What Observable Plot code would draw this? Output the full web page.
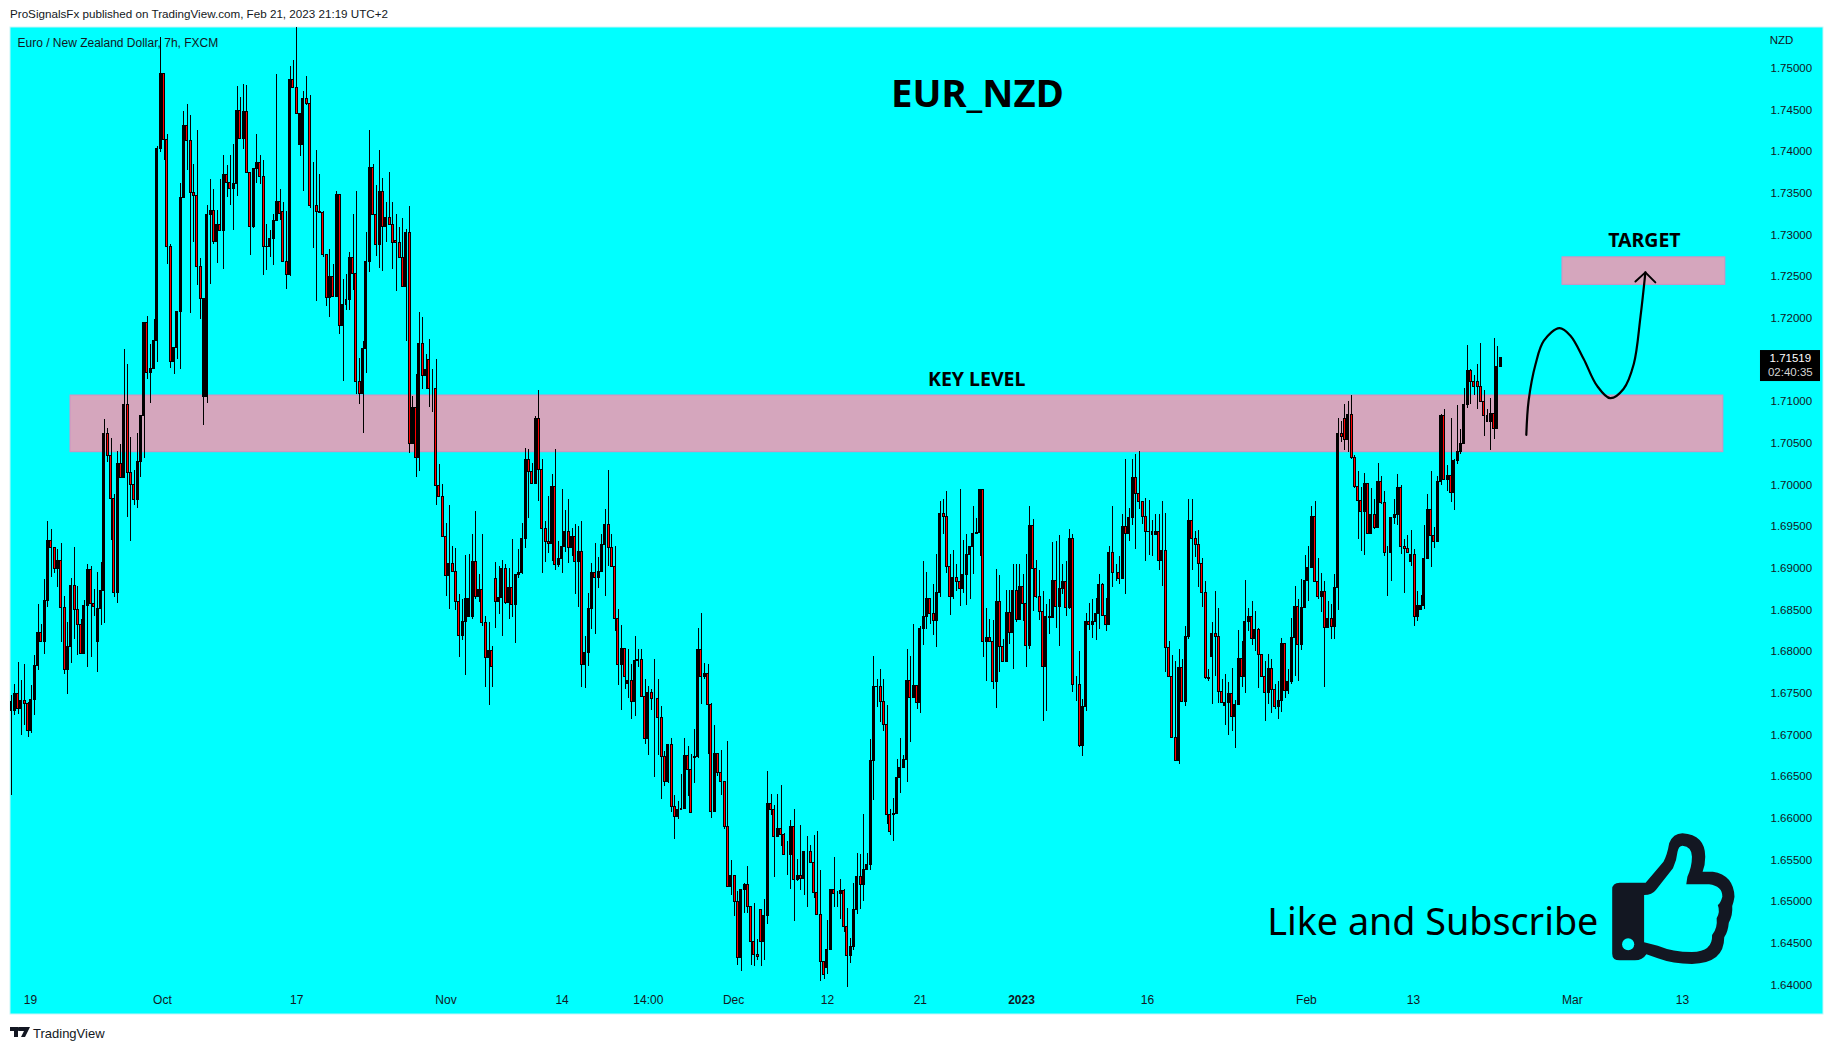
<!DOCTYPE html>
<html><head><meta charset="utf-8">
<script src="https://cdn.jsdelivr.net/npm/d3@7"></script>
<script src="https://cdn.jsdelivr.net/npm/@observablehq/plot@0.6"></script>
<style>
html,body{margin:0;padding:0;background:#fff;width:1834px;height:1050px;overflow:hidden}
#chart{position:absolute;left:0;top:0}
.t{position:absolute;font-family:"Liberation Sans",Arial,sans-serif;color:#131722;white-space:nowrap}
</style></head><body>
<div id="chart"></div>
<div class="t" style="left:10px;top:7px;font-size:11.65px">ProSignalsFx published on TradingView.com, Feb 21, 2023 21:19 UTC+2</div>
<svg style="position:absolute;left:10px;top:1027px" width="20" height="10" viewBox="0 0 20 10"><path fill="#131722" d="M0 0H8V10H4V4H0ZM9 0H20L15 10H11L14 4H9A2 2 0 0 1 9 0Z"/></svg>
<div class="t" style="left:33px;top:1026px;font-size:13px">TradingView</div>
<svg style="position:absolute;left:1240px;top:800px" width="594" height="250" viewBox="0 0 1564 750" preserveAspectRatio="none">
<path fill="#131722" fill-rule="evenodd" d="M1000 248L1068 248L1115 185Q1125 165 1130 130Q1140 100 1165 100Q1225 105 1225 170Q1225 195 1218 215L1245 215Q1300 225 1302 290Q1300 305 1296 318Q1298 345 1287 368Q1285 395 1275 412Q1275 490 1190 492Q1140 492 1100 475L1070 463Q1060 481 1040 481L1000 481Q980 481 980 461L980 268Q980 248 1000 248ZM1064 285Q1085 285 1095 270L1140 205Q1150 180 1152 155Q1155 137 1165 137Q1190 140 1190 170Q1190 200 1178 230L1175 253L1235 253Q1270 258 1270 290Q1265 310 1258 315Q1265 335 1255 355Q1258 385 1243 405Q1245 455 1190 456Q1140 456 1100 437L1064 427Z"/>
<ellipse cx="1022" cy="433" rx="16" ry="18" fill="#00ffff"/>
</svg>
<script>
// candle values in pips above 1.6000
const basePrice = 1.6;
const opens = [
740,729,749,731,741,737,705,742,783,822,811,861,933,924,899,909,852,778,806,879,
850,832,797,855,898,857,812,851,873,1061,1035,983,870,1025,1008,1096,1014,1000,982,1027,
1083,1194,1134,1139,1173,1403,1493,1414,1286,1148,1164,1208,1344,1431,1413,1350,1347,1262,1105,1105,
1324,1329,1292,1312,1305,1372,1362,1355,1361,1449,1415,1448,1374,1309,1379,1386,1369,1286,1285,1295,
1317,1340,1327,1267,1252,1486,1476,1408,1408,1463,1457,1335,1335,1327,1326,1276,1224,1249,1225,1348,
1191,1216,1222,1272,1253,1123,1109,1163,1268,1380,1324,1288,1351,1309,1320,1312,1293,1290,1272,1237,
1302,1049,1092,1032,1169,1131,1150,1115,1115,999,986,
938,891,905,896,859,819,836,842,842,907,866,874,834,792,801,887,859,864,899,858,
876,856,892,894,935,1030,1016,1001,1079,1018,947,931,929,997,904,911,926,944,924,938,
908,920,784,798,851,894,888,895,928,952,924,902,839,784,803,761,765,739,789,
790,746,695,750,743,743,720,674,643,688,614,602,610,611,675,658,672,673,802,769,
773,736,608,677,654,644,589,517,531,500,432,514,520,493,452,436,490,452,483,617,
610,577,587,580,556,556,589,526,531,527,560,560,546,510,484,428,420,442,514,509,
509,513,469,435,445,490,
529,520,538,544,669,758,757,739,712,604,604,605,648,660,670,765,744,759,738,827,
842,863,845,837,870,965,962,901,866,888,883,875,892,916,925,941,942,994,812,816,
811,763,860,805,788,846,822,873,838,878,857,807,951,899,865,848,782,842,840,885,
853,875,883,852,935,760,
760,687,734,835,832,836,845,880,843,832,918,894,894,887,950,941,960,1008,989,979,
961,944,943,940,944,909,921,804,770,696,669,780,740,818,957,935,928,905,870,768,
793,821,818,752,735,738,749,722,736,791,770,835,841,815,826,796,770,750,779,754,
733,741,809,753,764,816,
854,808,852,885,900,962,884,865,871,828,839,829,876,1061,1079,1054,1084,1032,997,981,
968,1001,941,964,948,1004,978,918,918,960,964,996,926,923,907,916,841,850,855,911,
970,939,932,1003,1083,1006,1011,990,1029,1040,1049,1096,1137,1124,1123,1118,1100,1083,1075,1085,
1067,1142];
const highs = [
747,760,787,765,784,739,759,795,856,833,887,956,946,925,923,930,866,835,888,925,
878,839,861,905,902,875,895,907,1078,1068,1056,988,1040,1048,1163,1144,1057,1017,1062,1083,
1195,1202,1168,1198,1406,1537,1493,1420,1288,1164,1208,1362,1448,1457,1443,1384,1425,1272,1223,1335,
1366,1355,1329,1367,1395,1383,1395,1409,1478,1465,1480,1479,1374,1379,1420,1395,1389,1312,1305,1325,
1492,1355,1339,1328,1502,1509,1549,1445,1472,1490,1467,1387,1401,1372,1328,1276,1283,1265,1352,1348,
1246,1252,1279,1324,1352,1152,1172,1303,1425,1385,1359,1401,1368,1339,1375,1339,1325,1309,1320,1307,
1334,1106,1133,1207,1201,1156,1174,1139,1150,1024,1001,
954,975,926,924,868,863,915,916,940,968,892,940,842,835,806,907,902,909,904,900,
935,892,922,954,1044,1042,1026,1082,1113,1030,956,986,1012,1043,932,994,969,982,948,952,
950,956,818,870,906,930,913,941,971,1017,941,926,850,831,803,803,785,818,803,
803,766,758,755,791,767,734,680,688,696,627,620,652,696,686,676,706,828,846,786,
785,738,711,677,681,644,692,549,531,512,514,522,542,493,498,455,491,503,656,629,
615,628,639,582,572,597,611,551,591,560,578,567,579,584,537,428,477,514,553,512,
526,515,492,456,522,558,
556,604,558,695,794,766,778,766,735,611,624,671,696,675,803,794,832,759,830,908,
895,863,880,917,980,983,992,917,921,905,994,933,941,925,974,960,995,994,852,838,
837,899,891,814,873,873,904,904,905,892,916,974,958,909,897,872,857,863,931,932,
939,905,908,946,941,770,
800,743,846,858,862,864,892,882,864,926,974,904,914,965,1031,972,1031,1037,1040,980,
984,981,957,965,965,980,966,812,795,788,802,790,830,983,983,944,945,912,884,778,
835,872,852,767,773,763,780,741,825,812,885,852,860,848,828,796,788,796,790,760,
764,816,809,778,840,878,
863,887,915,926,974,980,912,894,884,860,856,892,1080,1076,1097,1100,1107,1035,1016,997,
1014,1001,996,982,1026,1010,992,926,960,983,1012,999,934,939,945,922,872,867,951,988,
1016,949,1010,1085,1090,1023,1080,1030,1095,1067,1116,1167,1139,1131,1144,1170,1113,1091,1104,1176,
1166,1152];
const lows = [
627,723,725,699,711,697,702,723,777,811,796,853,889,894,877,811,772,748,786,815,
795,797,797,781,793,842,775,831,834,1027,933,865,858,1008,1008,961,932,975,972,1009,
1032,1127,1098,1139,1147,1399,1389,1265,1140,1133,1151,1139,1344,1377,1206,1291,1239,1198,1071,1098,
1241,1289,1266,1305,1258,1345,1335,1305,1346,1415,1403,1374,1275,1308,1362,1361,1251,1257,1273,1263,
1317,1317,1267,1235,1250,1476,1445,1394,1352,1455,1332,1284,1220,1326,1273,1214,1201,1225,1225,1181,
1124,1209,1209,1233,1109,1096,1062,1134,1255,1324,1274,1260,1256,1291,1312,1259,1232,1272,1237,1172,
1038,1049,1009,1016,1115,1115,1093,1087,975,986,938,
866,850,896,849,793,813,771,842,838,862,859,830,757,735,757,828,844,818,856,838,
841,810,888,892,924,960,1001,1001,980,894,907,918,908,897,901,894,919,906,914,868,
853,757,756,782,826,820,876,895,866,902,902,824,759,729,755,744,718,722,781,
745,688,675,729,649,675,622,638,642,607,574,598,610,611,626,606,642,672,736,766,
677,600,608,650,627,586,517,507,482,423,416,486,486,423,422,429,422,429,472,603,
529,577,566,556,531,515,476,524,513,507,493,546,504,484,404,406,412,442,493,493,
478,463,397,426,441,485,
490,500,537,537,621,733,715,704,593,579,572,604,630,660,643,691,744,730,726,807,
826,832,819,805,865,940,894,843,862,872,854,870,855,862,892,941,914,793,764,811,
754,732,775,787,788,808,778,835,838,836,781,802,848,864,837,716,728,821,840,828,
806,868,842,850,751,740,
685,674,728,825,816,813,826,843,824,832,877,884,880,887,868,932,951,922,971,952,
908,915,914,940,897,878,775,770,696,668,664,740,734,814,897,913,877,853,766,764,
737,770,738,738,711,699,704,684,736,757,750,824,807,800,756,770,716,736,726,730,
718,727,744,748,760,770,
764,801,852,860,900,884,862,847,757,828,814,815,849,1051,1041,1039,1031,996,934,920,
915,941,941,946,948,977,914,866,884,953,951,917,870,918,902,830,836,850,850,911,
901,924,932,999,1006,992,979,969,1024,1036,1049,1092,1096,1107,1091,1100,1058,1075,1041,1054,
1067,1141];
const closes = [
729,749,731,741,737,705,742,783,822,811,861,933,924,899,909,852,778,806,879,850,
832,797,855,898,857,853,851,873,1061,1035,983,870,1025,1008,1096,1014,1000,982,1027,1083,
1194,1134,1139,1173,1403,1493,1414,1286,1148,1164,1208,1344,1431,1413,1350,1347,1262,1223,1223,1324,
1329,1292,1312,1305,1372,1362,1355,1361,1449,1415,1448,1374,1309,1379,1386,1369,1286,1285,1295,1317,
1340,1325,1267,1252,1486,1476,1445,1445,1463,1457,1335,1335,1327,1326,1276,1224,1249,1225,1348,1191,
1216,1222,1272,1253,1123,1109,1163,1268,1380,1324,1288,1351,1309,1320,1312,1290,1290,1272,1237,1302,
1049,1092,1032,1169,1131,1138,1115,1115,999,986,938,
891,905,896,859,819,836,863,863,907,866,874,834,792,801,781,859,864,899,858,876,
856,892,894,935,1030,1016,1001,1079,1018,947,931,929,997,904,911,926,944,924,938,908,
920,784,798,851,894,888,895,928,952,924,902,839,784,803,769,765,739,789,790,
746,695,750,743,743,720,674,643,688,614,602,610,611,675,658,606,673,802,769,773,
736,608,677,654,644,589,517,531,500,432,514,520,493,452,436,433,452,483,617,610,
577,587,580,556,556,589,526,531,527,560,560,546,510,484,428,412,442,514,509,509,
513,469,435,445,490,529,
520,538,544,669,758,757,739,712,604,583,605,648,660,670,765,744,759,738,827,842,
863,845,837,870,965,962,901,866,888,883,875,892,916,925,941,942,994,812,816,811,
763,860,805,788,846,822,873,838,878,857,807,951,899,865,848,782,842,840,885,853,
875,883,852,935,760,760,
687,734,835,832,836,845,880,843,832,918,894,894,887,950,941,960,1008,989,979,961,
944,943,940,944,909,921,804,770,696,669,780,740,818,957,935,928,905,870,768,767,
821,818,752,738,738,749,722,736,791,770,835,841,815,826,796,770,750,779,754,733,
741,809,753,764,816,854,
808,852,885,900,962,884,865,871,828,839,829,876,1061,1058,1054,1084,1032,997,981,968,
1001,941,964,948,1004,978,918,918,960,964,996,926,923,918,916,841,855,855,911,970,
939,932,1003,1083,1006,1011,990,1029,1040,1049,1096,1137,1124,1117,1118,1100,1083,1075,1085,1067,
1142,1151.9];

const yTicks = [1.64,1.645,1.65,1.655,1.66,1.665,1.67,1.675,1.68,1.685,1.69,1.695,1.7,1.705,1.71,1.72,1.725,1.73,1.735,1.74,1.745,1.75];
const xTickBars = [5.7,45.5,86,131,166,192,217.7,246,274,342.5,390.4,422.7,470.6,503.8];
const xTickLabels = ["19","Oct","17","Nov","14","14:00","Dec","12","21","16","Feb","13","Mar","13"];
const yearBar = [304.5];
const zones = [{x1:17.8,x2:516.1,y1:1.70392,y2:1.71072},{x1:467.6,x2:516.7,y1:1.7240,y2:1.7273}];
const pathBars = [456.7,457.4,459.5,462,466.7,470,474,478,482,486,489.1,491.1,492.6];
const pathPips = [1060,1101,1145,1173,1188,1179,1151,1119,1104,1115,1145,1201,1255];
const arrowBars = [489.6,492.6,495.6];
const arrowPips = [1244,1255,1243];
const xDomain = [-0.3,546.3];
const yDomain = [1.754884,1.636444];
const lastPrice = 1.71519;
const pip = v => basePrice + v/10000;

if(new Set([opens.length,highs.length,lows.length,closes.length]).size!==1) throw new Error("lengths "+[opens.length,highs.length,lows.length,closes.length]);

const candles = closes.map((c,i)=>({i,open:pip(opens[i]),high:pip(highs[i]),low:pip(lows[i]),close:pip(c)}));
const up = candles.filter(d=>d.close>=d.open), down = candles.filter(d=>d.close<d.open);
const path = pathBars.map((x,i)=>({x,y:pip(pathPips[i])}));
const arrow = arrowBars.map((x,i)=>({x,y:pip(arrowPips[i])}));
const body = {x1:d=>d.i-0.3,x2:d=>d.i+0.3,y1:"open",y2:"close",stroke:"#000",strokeWidth:1,shapeRendering:"crispEdges",ariaLabel:"candle-body"};
const sans = "Noto Sans, Open Sans, sans-serif", arial="Liberation Sans, Arial, sans-serif", ink="#131722";

const plot = Plot.plot({
  width:1834,height:1050,marginLeft:10,marginRight:64,marginTop:27,marginBottom:55,
  style:{background:"transparent",overflow:"visible"},
  x:{type:"linear",domain:xDomain,range:[10,1823]},
  y:{type:"linear",domain:yDomain,range:[27,1014]},
  marks:[
    Plot.rect([{}],{x1:()=>xDomain[0],x2:()=>xDomain[1],y1:()=>yDomain[0],y2:()=>yDomain[1],fill:"#00ffff",stroke:"#c8f5f7",strokeWidth:1}),
    Plot.rect(zones,{x1:"x1",x2:"x2",y1:"y1",y2:"y2",fill:"#d5a6bd",stroke:"#d68fc0",strokeWidth:1}),
    Plot.ruleX(candles,{x:"i",y1:"low",y2:"high",stroke:"#000",strokeWidth:1,shapeRendering:"crispEdges",ariaLabel:"candle-wick"}),
    Plot.rect(up,{...body,fill:"#000"}),
    Plot.rect(down,{...body,fill:"#ff0000"}),
    Plot.line(path,{x:"x",y:"y",curve:"catmull-rom",stroke:"#000",strokeWidth:2.2}),
    Plot.line(arrow,{x:"x",y:"y",stroke:"#000",strokeWidth:2}),
    Plot.axisY(yTicks,{anchor:"right",tickSize:0,tickPadding:0,tickFormat:d=>d.toFixed(5),fontFamily:arial,fontSize:11.5,fill:ink,label:null}),
    Plot.axisX(xTickBars,{anchor:"bottom",tickSize:0,tickPadding:0,tickFormat:d=>xTickLabels[xTickBars.indexOf(d)],fontFamily:arial,fontSize:12,fill:ink,label:null}),
    Plot.axisX(yearBar,{anchor:"bottom",tickSize:0,tickPadding:0,tickFormat:()=>"2023",fontFamily:arial,fontSize:12,fontWeight:"bold",fill:ink,label:null}),
    Plot.rect([{}],{x1:()=>527.3,x2:()=>545.4,y1:()=>1.7124,y2:()=>1.71612,fill:"#000"}),
    Plot.text([lastPrice],{x:()=>536.3,y:d=>d,text:d=>d.toFixed(5),fill:"#fff",fontFamily:arial,fontSize:11.5}),
    Plot.text(["02:40:35"],{x:()=>536.3,y:()=>1.71349,text:d=>d,fill:"#d5d5d5",fontFamily:arial,fontSize:11.5}),
    Plot.text(["NZD"],{x:()=>530.1,y:()=>1.7533,text:d=>d,textAnchor:"start",fill:ink,fontFamily:arial,fontSize:11.5}),
    Plot.text(["Euro / New Zealand Dollar, 7h, FXCM"],{x:()=>1.8,y:()=>1.7530,text:d=>d,textAnchor:"start",fill:ink,fontFamily:arial,fontSize:12}),
    Plot.text(["EUR_NZD"],{x:()=>291.2,y:()=>1.7468,text:d=>d,fill:"#000",fontFamily:sans,fontWeight:"bold",fontSize:38.3}),
    Plot.text(["KEY LEVEL"],{x:()=>291,y:()=>1.7126,text:d=>d,fill:"#000",fontFamily:sans,fontWeight:"bold",fontSize:19.5}),
    Plot.text(["TARGET"],{x:()=>492.3,y:()=>1.7293,text:d=>d,fill:"#000",fontFamily:sans,fontWeight:"bold",fontSize:19.5}),
    Plot.text(["Like and Subscribe"],{x:()=>378.6,y:()=>1.64594,lineAnchor:"bottom",textAnchor:"start",text:d=>d,fill:"#000",fontFamily:sans,fontSize:37.7})
  ]
});
// snap candles to whole device pixels, as a trading chart does
plot.querySelectorAll('g[aria-label="candle-wick"]').forEach(g=>{
  g.removeAttribute("transform");
  g.querySelectorAll("line").forEach(l=>{
    const c=Math.round(+l.getAttribute("x1"));
    l.setAttribute("x1",c+0.5);l.setAttribute("x2",c+0.5);
  });
});
plot.querySelectorAll('g[aria-label="candle-body"]').forEach(g=>{
  g.removeAttribute("transform");
  g.querySelectorAll("rect").forEach(r=>{
    const c=Math.round(+r.getAttribute("x")+(+r.getAttribute("width"))/2);
    r.setAttribute("x",c-0.5);r.setAttribute("width",2);
  });
});
document.getElementById("chart").appendChild(plot);
</script>
</body></html>
